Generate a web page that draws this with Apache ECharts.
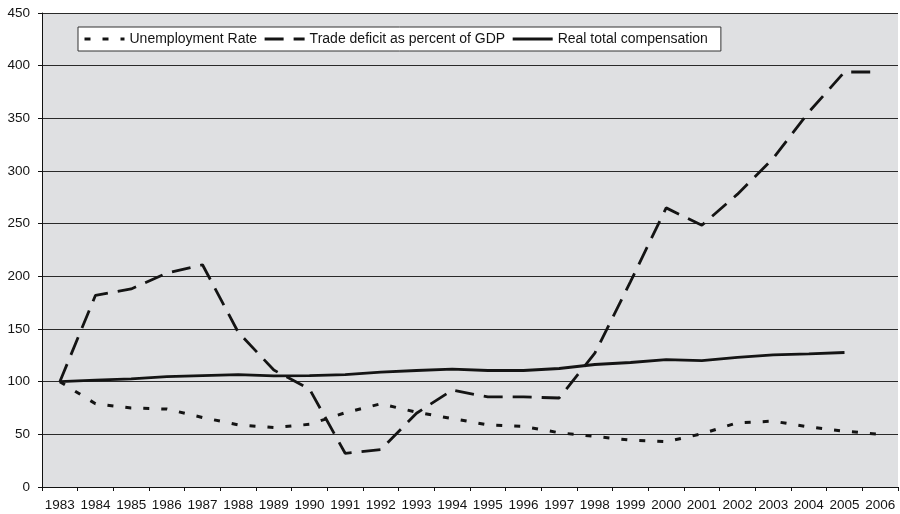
<!DOCTYPE html>
<html>
<head>
<meta charset="utf-8">
<script src="https://cdn.jsdelivr.net/npm/echarts@6/dist/echarts.min.js"></script>
<style>
  html, body { margin: 0; padding: 0; background: #ffffff; }
  #chart { width: 900px; height: 514px; }
</style>
</head>
<body>
<div id="chart"></div>
<script>
// Index values, 1983 = 100
var years = ['1983','1984','1985','1986','1987','1988','1989','1990','1991','1992','1993','1994',
             '1995','1996','1997','1998','1999','2000','2001','2002','2003','2004','2005','2006'];

var unemploymentRate = [100, 79, 75, 74, 66, 59, 56.5, 59.5, 70.5, 79, 71, 65,
                        59, 57.5, 51.5, 48, 44.5, 43, 50.5, 61, 62.5, 57, 53, 50];

var tradeDeficitPctGdp = [100, 182, 188, 203, 211, 147, 111, 93, 32, 35.5, 70, 92,
                          85.5, 85.5, 84.5, 127, 195, 265, 248.5, 278, 312, 356, 394, 394];

var realTotalCompensation = [100, 101.4, 102.7, 104.7, 105.8, 106.7, 105.5, 105.8, 106.7, 109, 110.6, 111.9,
                             110.6, 110.6, 112.5, 116.3, 118.2, 121, 120, 123, 125.5, 126.4, 127.7, null];

var yTicks = { min: 0, max: 450, step: 50 };

var FONT = '"Liberation Sans", Arial, Helvetica, sans-serif';
var INK = '#141414';

var chart = echarts.init(document.getElementById('chart'), null, { renderer: 'canvas' });

chart.setOption({
  animation: false,
  backgroundColor: '#ffffff',
  textStyle: { fontFamily: FONT, color: INK },
  grid: {
    left: 42, right: 2, top: 13, bottom: 27,
    show: true,
    backgroundColor: '#dfe0e2',
    borderWidth: 0
  },
  legend: {
    left: 78, top: 27,
    orient: 'horizontal',
    backgroundColor: '#ffffff',
    borderColor: '#333333',
    borderWidth: 1,
    borderRadius: 0,
    padding: [5, 13, 5, 5],
    itemWidth: 40,
    itemHeight: 12,
    itemGap: 6,
    // line-only keys: hide the marker drawn in the middle of each key
    itemStyle: { opacity: 0 },
    lineStyle: { width: 3 },
    textStyle: { fontFamily: FONT, fontSize: 14, color: INK }
  },
  xAxis: {
    type: 'category',
    data: years,
    boundaryGap: true,
    axisLine: { show: true, lineStyle: { color: '#111111', width: 1 } },
    axisTick: { show: true, length: 4, interval: 0, lineStyle: { color: '#111111' } },
    axisLabel: { interval: 0, margin: 11, fontSize: 13.5, color: INK, fontFamily: FONT },
    splitLine: { show: false }
  },
  yAxis: {
    type: 'value',
    min: yTicks.min,
    max: yTicks.max,
    interval: yTicks.step,
    axisLine: { show: true, lineStyle: { color: '#111111', width: 1 } },
    axisTick: { show: true, length: 4, lineStyle: { color: '#111111' } },
    axisLabel: { margin: 12, fontSize: 13.5, color: INK, fontFamily: FONT },
    splitLine: { show: true, lineStyle: { color: '#2a2a2a', width: 1 } }
  },
  series: [
    {
      name: 'Unemployment Rate',
      type: 'line',
      data: unemploymentRate,
      symbol: 'none',
      color: INK,
      lineStyle: { color: INK, width: 3, type: [6, 12] }
    },
    {
      name: 'Trade deficit as percent of GDP',
      type: 'line',
      data: tradeDeficitPctGdp,
      symbol: 'none',
      color: INK,
      lineStyle: { color: INK, width: 2.8, type: [19, 10] }
    },
    {
      name: 'Real total compensation',
      type: 'line',
      data: realTotalCompensation,
      symbol: 'none',
      color: INK,
      lineStyle: { color: INK, width: 2.8, type: 'solid' }
    }
  ]
});
</script>
</body>
</html>
